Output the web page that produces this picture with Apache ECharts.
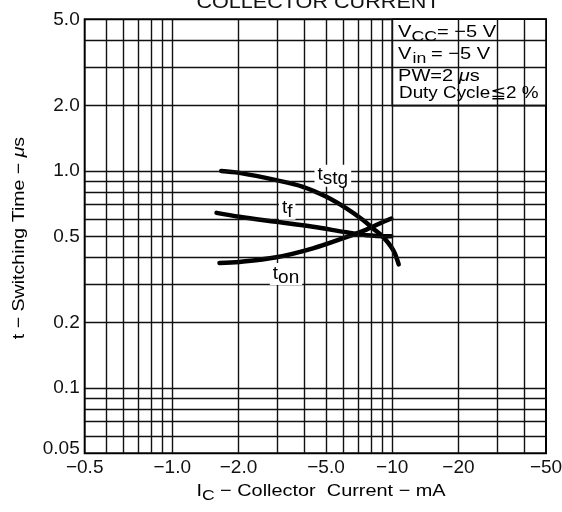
<!DOCTYPE html>
<html><head><meta charset="utf-8">
<script src="https://cdn.jsdelivr.net/npm/echarts@6/dist/echarts.min.js"></script>
<style>html,body{margin:0;padding:0;background:#fff}#c{width:562px;height:512px}</style>
</head><body><div id="c"></div>
<script>
// |Ic| in mA, switching time in microseconds
const stgCurrent = [1.67, 2.02, 2.97, 3.93, 5.02, 6.19, 7.36, 8.18, 9.08, 10.1, 10.7];
const stgTime    = [1.00, 0.98, 0.907, 0.845, 0.76, 0.672, 0.594, 0.543, 0.497, 0.432, 0.371];
const fCurrent   = [1.59, 2.02, 2.97, 4.36, 6.19, 7.63, 9.91];
const fTime      = [0.641, 0.615, 0.583, 0.553, 0.522, 0.506, 0.500];
const onCurrent  = [1.64, 2.02, 2.97, 4.36, 6.19, 7.63, 8.77, 9.91];
const onTime     = [0.377, 0.381, 0.400, 0.440, 0.496, 0.537, 0.573, 0.604];

// tick labels (the reference prints "−0.5" at the left frame edge)
const xTickValues = [0.4, 1, 2, 5, 10, 20, 50];
const xTickLabels = ['−0.5', '−1.0', '−2.0', '−5.0', '−10', '−20', '−50'];
const yTickValues = [0.05, 0.1, 0.2, 0.5, 1, 2, 5];
const yTickLabels = ['0.05', '0.1', '0.2', '0.5', '1.0', '2.0', '5.0'];
const xGridValues = [0.5, 0.6, 0.7, 0.8, 0.9, 1, 2, 3, 4, 5, 6, 7, 8, 9, 10, 20, 30, 40];
const yGridValues = [0.06, 0.07, 0.08, 0.09, 0.1, 0.2, 0.3, 0.4, 0.5, 0.6, 0.7, 0.8, 0.9, 1, 2, 3, 4];

const FONT = "'Liberation Sans', Arial, Helvetica, 'DejaVu Sans', sans-serif";
function pick(vals, labels, v) {
  let best = 0, d = Infinity;
  vals.forEach((t, i) => { const e = Math.abs(Math.log(t) - Math.log(v)); if (e < d) { d = e; best = i; } });
  return labels[best];
}
function zip(a, b) { return a.map((v, i) => [v, b[i]]); }

const richBase = {
  n: { fontSize: 17, fontFamily: FONT, fill: '#000', color: '#000', lineHeight: 20, verticalAlign: 'top' },
  s: { fontSize: 15, fontFamily: FONT, fill: '#000', color: '#000', lineHeight: 20, verticalAlign: 'top', padding: [5, 0, 0, 0] },
  si: { fontSize: 15, fontFamily: FONT, fill: '#000', color: '#000', lineHeight: 20, verticalAlign: 'top', padding: [5, 4, 0, 1] },
  i: { fontSize: 17, fontFamily: FONT, fontStyle: 'italic', fill: '#000', color: '#000', lineHeight: 20, verticalAlign: 'top' }
};
function txt(x, y, text, opts) {
  opts = opts || {};
  return {
    type: 'text', x: x, y: y, z: 100, zlevel: 0, silent: true,
    rotation: opts.rotation || 0, scaleX: opts.scaleX || 1, scaleY: 1,
    style: {
      text: text, x: 0, y: 0, rich: richBase, fill: '#000',
      font: '17px ' + FONT,
      align: opts.align || 'left', textAlign: opts.align || 'left',
      verticalAlign: opts.va || 'top', textVerticalAlign: opts.va || 'top'
    }
  };
}

const curveLabelRich = {
  t: { fontSize: 19, fontFamily: FONT, color: '#000', lineHeight: 20, verticalAlign: 'top' },
  s: { fontSize: 19, fontFamily: FONT, color: '#000', lineHeight: 20, verticalAlign: 'top', padding: [4, 0, 0, 0] }
};
function curveLabel(fmt, coord) {
  return {
    symbol: 'circle', symbolSize: 1, silent: true,
    itemStyle: { color: 'rgba(0,0,0,0)' },
    label: { show: true, position: 'inside', formatter: fmt, color: '#000', backgroundColor: '#fff',
             padding: [1, 3, 1, 3], rich: curveLabelRich },
    data: [{ coord: coord }]
  };
}
const curveStyle = { color: '#000', width: 4.5, cap: 'round', join: 'round' };
const tickFont = 19;

const chart = echarts.init(document.getElementById('c'), null, { renderer: 'canvas' });
chart.setOption({
  animation: false,
  backgroundColor: '#fff',
  grid: { left: 84.7, right: 16, top: 19.3, bottom: 58.7, containLabel: false, outerBoundsMode: 'none',
          show: true, borderColor: '#000', borderWidth: 2, backgroundColor: 'transparent' },
  xAxis: {
    type: 'log', logBase: 10, min: 0.4, max: 50,
    axisLine: { show: false }, axisTick: { show: false }, splitLine: { show: false },
    minorTick: { show: false }, minorSplitLine: { show: false },
    axisLabel: { customValues: xTickValues, formatter: v => pick(xTickValues, xTickLabels, v),
                 color: '#111', fontSize: tickFont, fontFamily: FONT, margin: 5, showMinLabel: true, showMaxLabel: true, hideOverlap: false }
  },
  yAxis: {
    type: 'log', logBase: 10, min: 0.05, max: 5,
    axisLine: { show: false }, axisTick: { show: false }, splitLine: { show: false },
    minorTick: { show: false }, minorSplitLine: { show: false },
    axisLabel: { customValues: yTickValues,
                 formatter: v => { const l = pick(yTickValues, yTickLabels, v); return l === '0.05' ? '{r|' + l + '}' : l; },
                 rich: { r: { fontSize: tickFont, fontFamily: FONT, color: '#111', padding: [0, 0, 10, 0] } },
                 color: '#111', fontSize: tickFont, fontFamily: FONT, margin: 5, showMinLabel: true, showMaxLabel: true, hideOverlap: false }
  },
  series: [
    { type: 'line', data: [], z: 1, silent: true,
      markLine: { silent: true, symbol: ['none', 'none'], animation: false, label: { show: false },
                  lineStyle: { color: '#111', width: 1.4, type: 'solid' }, emphasis: { disabled: true },
                  data: [].concat(xGridValues.map(v => ({ xAxis: v })), yGridValues.map(v => ({ yAxis: v }))) } },
    { type: 'line', data: [], z: 2, silent: true,
      markArea: { silent: true, itemStyle: { color: '#fff', borderColor: '#000', borderWidth: 1.6 },
                  emphasis: { disabled: true },
                  data: [[{ xAxis: 10, yAxis: 5 }, { xAxis: 50, yAxis: 2 }]] } },
    { name: 'tstg', type: 'line', z: 3, data: zip(stgCurrent, stgTime), smooth: 0.35, symbol: 'none',
      lineStyle: curveStyle, markPoint: curveLabel('{t|t}{s|stg}', [5.37, 0.951]) },
    { name: 'tf', type: 'line', z: 3, data: zip(fCurrent, fTime), smooth: 0.35, symbol: 'none',
      lineStyle: curveStyle, markPoint: curveLabel('{t|t}{s|f}', [3.33, 0.670]) },
    { name: 'ton', type: 'line', z: 3, data: zip(onCurrent, onTime), smooth: 0.35, symbol: 'none',
      lineStyle: curveStyle, markPoint: curveLabel('{t|t}{s|on}', [3.29, 0.335]) }
  ],
  graphic: {
    elements: [
      { type: 'text', x: 318, y: 3.5, scaleX: 1.2, z: 100, silent: true,
        style: { text: 'COLLECTOR CURRENT', x: 0, y: 0, font: '18px ' + FONT, fill: '#111',
                 align: 'center', textAlign: 'center', verticalAlign: 'middle', textVerticalAlign: 'middle' } },
      txt(398, 24, '{n|V}{s|CC}{n|= −5 V}', { scaleX: 1.18 }),
      txt(398, 46, '{n|V}{si|in}{n|= −5 V}', { scaleX: 1.18 }),
      txt(398, 68, '{n|PW=2 }{i|μ}{n|s}', { scaleX: 1.18 }),
      txt(399, 84.5, '{n|Duty Cycle≦2 %}', { scaleX: 1.11 }),
      txt(321, 483, '{n|I}{s|C}{n| − Collector  Current − mA}', { scaleX: 1.17, align: 'center' }),
      txt(20.5, 238, '{n|t − Switching Time − }{i|μ}{n|s}', { rotation: Math.PI / 2, scaleX: 1.15, align: 'center', va: 'middle' })
    ]
  }
});
</script>
</body></html>
